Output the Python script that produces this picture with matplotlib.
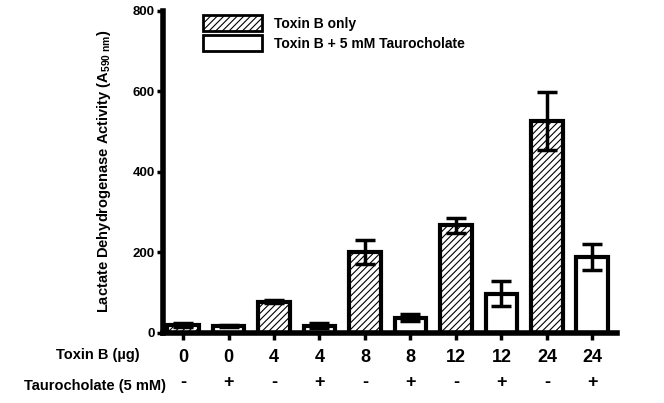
import matplotlib.pyplot as plt
import numpy as np
from matplotlib.patches import Patch

plt.rcParams["font.family"] = ["Liberation Sans", "DejaVu Sans"]
plt.rcParams["font.weight"] = "bold"
plt.rcParams["mathtext.fontset"] = "custom"
plt.rcParams["mathtext.rm"] = "Liberation Sans:bold"
plt.rcParams["mathtext.it"] = "Liberation Sans:bold"
plt.rcParams["mathtext.bf"] = "Liberation Sans:bold"
plt.rcParams["hatch.linewidth"] = 0.8
plt.rcParams["hatch.color"] = "#333333"

toxin_labels = ["0", "0", "4", "4", "8", "8", "12", "12", "24", "24"]
tauro_labels = ["-", "+", "-", "+", "-", "+", "-", "+", "-", "+"]
values = [20, 17, 78, 18, 200, 38, 267, 98, 525, 189]
errors = [4, 2, 3, 6, 30, 9, 18, 30, 72, 33]
hatched = [True, False, True, False, True, False, True, False, True, False]

fig = plt.figure(figsize=(6.64, 4.03), dpi=100)
ax = fig.add_axes([0.2455, 0.1737, 0.683, 0.80])

x = np.arange(len(values))
for i in x:
    ax.bar(i, values[i], width=0.7, facecolor="white", edgecolor="black",
           linewidth=3, hatch="/////" if hatched[i] else None, zorder=2)
ax.errorbar(x, values, yerr=errors, fmt="none", ecolor="black",
            elinewidth=2.5, capsize=7, capthick=2.5, zorder=3)

ax.set_xlim(-0.44, 9.53)
ax.set_ylim(0, 800)
ax.set_yticks([0, 200, 400, 600, 800])
ax.tick_params(axis="y", labelsize=9.5, width=2.5, length=4, pad=2)
ax.set_xticks(x)
ax.set_xticklabels([])
ax.tick_params(axis="x", width=2.5, length=5, direction="out")
for s in ["top", "right"]:
    ax.spines[s].set_visible(False)
for s in ["left", "bottom"]:
    ax.spines[s].set_linewidth(4)

ax.set_ylabel("Lactate Dehydrogenase Activity (A$_{590\\ nm}$)",
              fontsize=10.5, fontweight="bold", labelpad=14)

trans = ax.get_xaxis_transform()
for i in x:
    ax.text(i, -0.075, toxin_labels[i], transform=trans, ha="center",
            va="center", fontsize=13, fontweight="bold")
    ax.text(i, -0.155, tauro_labels[i], transform=trans, ha="center",
            va="center", fontsize=13, fontweight="bold")
fig.text(0.21, 0.118, "Toxin B (µg)", ha="right", va="center",
         fontsize=10.5, fontweight="bold")
fig.text(0.25, 0.043, "Taurocholate (5 mM)", ha="right", va="center",
         fontsize=10.5, fontweight="bold")

handles = [Patch(facecolor="white", edgecolor="black", linewidth=2, hatch="/////"),
           Patch(facecolor="white", edgecolor="black", linewidth=2)]
ax.legend(handles, ["Toxin B only", "Toxin B + 5 mM Taurocholate"],
          loc="upper left", bbox_to_anchor=(0.06, 1.025), frameon=False,
          handlelength=4.3, handleheight=1.4, labelspacing=0.3,
          handletextpad=0.8, prop={"weight": "bold", "size": 10})

fig.savefig("out.png", dpi=100)
